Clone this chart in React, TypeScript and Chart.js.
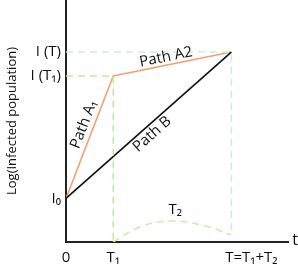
import React, { useEffect, useRef } from "react";
import { Chart, registerables } from "chart.js";

Chart.register(...registerables);

// ---- data ----
const xTickValues = [0, 2, 7];
const xTickLabels = ["0", "T₁", "T=T₁+T₂"];
const yTickValues = [1.8, 6.86, 7.85];
const yTickLabels = ["I₀", "I (T₁)", "I (T)"];

const pathAX = [0, 2, 7];
const pathAY = [1.8, 6.86, 7.85];
const pathBX = [0, 7];
const pathBY = [1.8, 7.85];
const guideTX = [0, 7, 7];
const guideTY = [7.85, 7.85, 0.29];
const guideT1X = [0, 2, 2];
const guideT1Y = [6.86, 6.86, 0];
const arcX = [2, 3.14, 4.5, 5.9, 7];
const arcY = [0, 0.62, 0.87, 0.66, 0.29];

const X_MAX = 9.4;
const Y_MAX = 10;

const pts = (xs: number[], ys: number[]) => xs.map((x, i) => ({ x, y: ys[i] }));

const FONT = "'Open Sans', 'DejaVu Sans', sans-serif";

const shiftLastLabel = {
  id: "shiftLastLabel",
  beforeDraw(chart: any) {
    const s = chart.scales.x as any;
    const items = s.getLabelItems();
    const last = items[items.length - 1];
    if (last && !last._shifted) {
      last.options.translation[0] += 20;
      last._shifted = true;
    }
  },
};

const annotations = {
  id: "annotations",
  afterDraw(chart: any) {
    const ctx = chart.ctx as CanvasRenderingContext2D;
    const xs = chart.scales.x;
    const ys = chart.scales.y;
    const px = (x: number, y: number) => [xs.getPixelForValue(x), ys.getPixelForValue(y)];
    const along = (
      a: number[],
      b: number[],
      frac: number,
      offset: number,
      text: string
    ) => {
      const [x0, y0] = px(a[0], a[1]);
      const [x1, y1] = px(b[0], b[1]);
      const dx = x1 - x0;
      const dy = y1 - y0;
      const len = Math.hypot(dx, dy);
      const nx = dy / len;
      const ny = -dx / len;
      const cx = x0 + dx * frac + nx * offset;
      const cy = y0 + dy * frac + ny * offset;
      ctx.save();
      ctx.translate(cx, cy);
      ctx.rotate(Math.atan2(dy, dx));
      ctx.font = `15px ${FONT}`;
      ctx.fillStyle = "#111";
      ctx.textAlign = "center";
      ctx.textBaseline = "middle";
      ctx.fillText(text, 0, 0);
      ctx.restore();
    };
    along([pathAX[0], pathAY[0]], [pathAX[1], pathAY[1]], 0.575, 10, "Path A₁");
    along([pathAX[1], pathAY[1]], [pathAX[2], pathAY[2]], 0.46, 8, "Path A2");
    along([pathBX[0], pathBY[0]], [pathBX[1], pathBY[1]], 0.485, -9, "Path B");

    ctx.save();
    ctx.font = `15px ${FONT}`;
    ctx.fillStyle = "#111";
    ctx.textAlign = "center";
    ctx.textBaseline = "middle";
    const [tx, ty] = px(arcX[2], arcY[2]);
    ctx.fillText("T₂", tx + 3, ty - 11);
    ctx.font = `16px ${FONT}`;
    ctx.fillText("t", chart.chartArea.right + 7, ys.getPixelForValue(0) - 2);
    ctx.restore();
  },
};

export default function App() {
  const ref = useRef<HTMLCanvasElement | null>(null);
  useEffect(() => {
    if (!ref.current) return;
    const dash = [7, 5];
    const chart = new Chart(ref.current, {
      type: "scatter",
      data: {
        datasets: [
          {
            data: pts(guideTX, guideTY),
            showLine: true,
            borderColor: "#c3f2d6",
            borderWidth: 1.5,
            borderDash: dash,
            pointRadius: 0,
          },
          {
            data: pts(guideT1X, guideT1Y),
            showLine: true,
            borderColor: "#b6f09a",
            borderWidth: 1.5,
            borderDash: dash,
            pointRadius: 0,
          },
          {
            data: pts(arcX, arcY),
            showLine: true,
            borderColor: "#c4f0a6",
            borderWidth: 1.5,
            borderDash: dash,
            pointRadius: 0,
            tension: 0.4,
          },
          {
            data: pts(pathBX, pathBY),
            showLine: true,
            borderColor: "#111111",
            borderWidth: 1.6,
            pointRadius: 0,
          },
          {
            data: pts(pathAX, pathAY),
            showLine: true,
            borderColor: "#f4a26c",
            borderWidth: 1.6,
            pointRadius: 0,
          },
        ],
      },
      options: {
        animation: false,
        responsive: true,
        maintainAspectRatio: false,
        layout: { padding: { left: 0, top: 0, right: 10, bottom: 0 } },
        plugins: { legend: { display: false }, tooltip: { enabled: false } },
        scales: {
          x: {
            type: "linear",
            min: 0,
            max: X_MAX,
            z: 1,
            grid: { display: false, drawTicks: false },
            border: { display: true, color: "#222", width: 2 },
            afterBuildTicks: (scale: any) => {
              scale.ticks = xTickValues.map((v) => ({ value: v }));
            },
            afterFit: (scale: any) => {
              scale.height = 30;
              scale.paddingLeft = 0;
              scale.paddingRight = 0;
            },
            ticks: {
              autoSkip: false,
              maxRotation: 0,
              minRotation: 0,
              padding: 7,
              color: "#111",
              font: { family: FONT, size: 15 },
              callback: (_v: any, i: number) => xTickLabels[i],
            },
          },
          y: {
            type: "linear",
            min: 0,
            max: Y_MAX,
            z: 1,
            grid: { display: false, drawTicks: false },
            border: { display: true, color: "#222", width: 2 },
            afterBuildTicks: (scale: any) => {
              scale.ticks = yTickValues.map((v) => ({ value: v }));
            },
            afterFit: (scale: any) => {
              scale.width = 66;
              scale.paddingTop = 0;
              scale.paddingBottom = 0;
            },
            title: {
              display: true,
              text: "Log(Infected population)",
              color: "#111",
              font: { family: FONT, size: 13 },
              padding: { top: 4, bottom: 0 },
            },
            ticks: {
              autoSkip: false,
              padding: 5,
              color: "#111",
              font: { family: FONT, size: 15 },
              callback: (_v: any, i: number) => yTickLabels[i],
            },
          },
        },
      },
      plugins: [shiftLastLabel, annotations],
    });
    return () => chart.destroy();
  }, []);
  return (
    <div style={{ position: "fixed", left: 0, top: 0, width: 298, height: 272, background: "#fff" }}>
      <canvas ref={ref} />
    </div>
  );
}
